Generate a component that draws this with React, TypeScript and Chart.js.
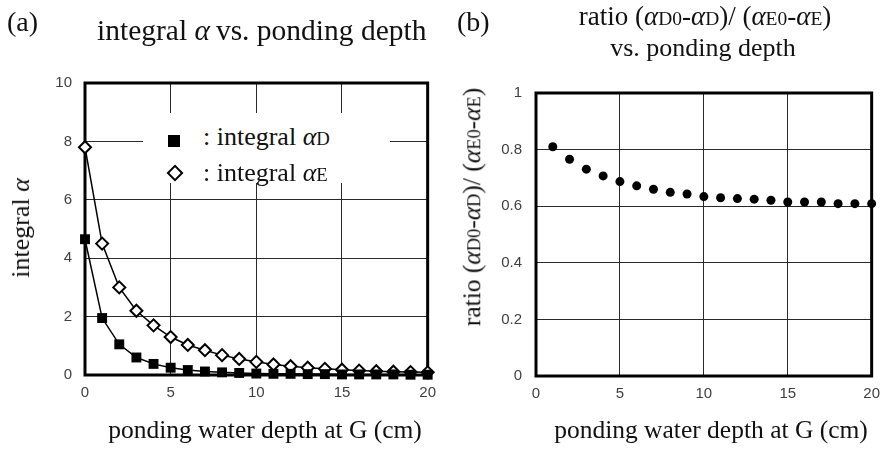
import React, { useEffect, useRef } from "react";
import { Chart, registerables } from "chart.js";

Chart.register(...registerables);

// ---- data ----
const depth = [0, 1, 2, 3, 4, 5, 6, 7, 8, 9, 10, 11, 12, 13, 14, 15, 16, 17, 18, 19, 20];
const integralAlphaD = [4.65, 1.95, 1.05, 0.6, 0.38, 0.25, 0.17, 0.12, 0.09, 0.07, 0.05, 0.04, 0.04, 0.03, 0.03, 0.02, 0.02, 0.02, 0.02, 0.01, 0.01];
const integralAlphaE = [7.8, 4.5, 3.0, 2.2, 1.7, 1.3, 1.03, 0.85, 0.68, 0.55, 0.45, 0.36, 0.3, 0.25, 0.21, 0.18, 0.15, 0.13, 0.11, 0.1, 0.09];
const ratioDepth = [1, 2, 3, 4, 5, 6, 7, 8, 9, 10, 11, 12, 13, 14, 15, 16, 17, 18, 19, 20];
const ratioValues = [0.81, 0.766, 0.731, 0.707, 0.687, 0.672, 0.66, 0.649, 0.643, 0.634, 0.63, 0.627, 0.625, 0.621, 0.615, 0.615, 0.615, 0.609, 0.609, 0.609];
const xTicks = [0, 5, 10, 15, 20];
const yTicksA = [0, 2, 4, 6, 8, 10];
const yTicksB = [0, 0.2, 0.4, 0.6, 0.8, 1];

const SERIF = "'Liberation Serif', 'Times New Roman', serif";
const SANS = "'Liberation Sans', Arial, sans-serif";
const TICK_COLOR = "#404040";
const GRID_COLOR = "#2a2a2a";

const framePlugin = {
  id: "frame",
  beforeDatasetsDraw(chart: any) {
    const { ctx, chartArea } = chart;
    ctx.save();
    ctx.strokeStyle = "#000";
    ctx.lineWidth = 3;
    ctx.strokeRect(chartArea.left, chartArea.top, chartArea.right - chartArea.left, chartArea.bottom - chartArea.top);
    ctx.restore();
  },
};

function makeScales(yMax: number, yTicks: number[], yWidth: number, xHeight: number, yPad: number) {
  return {
    x: {
      type: "linear",
      min: 0,
      max: 20,
      afterFit: (s: any) => { s.height = xHeight; },
      afterBuildTicks: (s: any) => { s.ticks = xTicks.map((v) => ({ value: v })); },
      grid: { color: GRID_COLOR, lineWidth: 1, drawTicks: false },
      border: { display: false },
      ticks: { color: TICK_COLOR, font: { family: SANS, size: 15 }, padding: 9, maxRotation: 0, callback: (v: any) => String(v) },
    },
    y: {
      type: "linear",
      min: 0,
      max: yMax,
      afterFit: (s: any) => { s.width = yWidth; },
      afterBuildTicks: (s: any) => { s.ticks = yTicks.map((v) => ({ value: v })); },
      grid: { color: GRID_COLOR, lineWidth: 1, drawTicks: false },
      border: { display: false },
      ticks: { color: TICK_COLOR, font: { family: SANS, size: 15 }, padding: yPad, callback: (v: any) => String(v) },
    },
  };
}

function Sub({ t }: { t: string }) {
  return <span style={{ fontSize: "0.72em" }}>{t}</span>;
}
function A() {
  return <i>α</i>;
}

function Txt(props: { left?: number; center?: number; baseline: number; size: number; children: any; }) {
  const top = props.baseline - 0.8375 * props.size;
  const style: any = {
    position: "absolute",
    top,
    fontFamily: SERIF,
    fontSize: props.size,
    lineHeight: 1,
    whiteSpace: "nowrap",
    color: "#111",
  };
  if (props.center !== undefined) {
    style.left = props.center;
    style.transform = "translateX(-50%)";
  } else {
    style.left = props.left;
  }
  return <div style={style}>{props.children}</div>;
}

function VTxt(props: { cx: number; cy: number; size: number; children: any }) {
  return (
    <div
      style={{
        position: "absolute",
        left: props.cx,
        top: props.cy,
        transform: "translate(-50%, -50%) rotate(-90deg)",
        fontFamily: SERIF,
        fontSize: props.size,
        lineHeight: 1,
        whiteSpace: "nowrap",
        color: "#111",
      }}
    >
      {props.children}
    </div>
  );
}

export default function App() {
  const refA = useRef<HTMLCanvasElement>(null);
  const refB = useRef<HTMLCanvasElement>(null);

  useEffect(() => {
    const chartA = new Chart(refA.current as HTMLCanvasElement, {
      type: "scatter",
      data: {
        datasets: [
          {
            label: "integral αD",
            data: depth.map((x, i) => ({ x, y: integralAlphaD[i] })),
            showLine: true,
            borderColor: "#000",
            borderWidth: 1.5,
            pointStyle: "rect",
            pointRadius: 7,
            pointBackgroundColor: "#000",
            pointBorderColor: "#000",
            pointBorderWidth: 0,
            clip: false,
          },
          {
            label: "integral αE",
            data: depth.map((x, i) => ({ x, y: integralAlphaE[i] })),
            showLine: true,
            borderColor: "#000",
            borderWidth: 1.5,
            pointStyle: "rectRot",
            pointRadius: 6,
            pointBackgroundColor: "#fff",
            pointBorderColor: "#000",
            pointBorderWidth: 2,
            clip: false,
          },
        ],
      } as any,
      options: {
        responsive: false,
        animation: false,
        layout: { padding: { top: 83, right: 17, left: 0, bottom: 0 } },
        plugins: { legend: { display: false }, tooltip: { enabled: false }, title: { display: false } },
        scales: makeScales(10, yTicksA, 85, 74, 13) as any,
      },
      plugins: [framePlugin],
    });

    const chartB = new Chart(refB.current as HTMLCanvasElement, {
      type: "scatter",
      data: {
        datasets: [
          {
            label: "ratio",
            data: ratioDepth.map((x, i) => ({ x, y: ratioValues[i] })),
            showLine: false,
            pointStyle: "circle",
            pointRadius: 4.5,
            pointBackgroundColor: "#000",
            pointBorderColor: "#000",
            pointBorderWidth: 0,
            clip: false,
          },
        ],
      } as any,
      options: {
        responsive: false,
        animation: false,
        layout: { padding: { top: 93, right: 12, left: 0, bottom: 0 } },
        plugins: { legend: { display: false }, tooltip: { enabled: false }, title: { display: false } },
        scales: makeScales(1, yTicksB, 91, 73, 14) as any,
      },
      plugins: [framePlugin],
    });

    return () => {
      chartA.destroy();
      chartB.destroy();
    };
  }, []);

  return (
    <div style={{ position: "absolute", left: 0, top: 0, width: 889, height: 449, background: "#fff", overflow: "hidden" }}>
      <canvas ref={refA} width={445} height={449} style={{ position: "absolute", left: 0, top: 0, width: 445, height: 449 }} />
      <canvas ref={refB} width={444} height={449} style={{ position: "absolute", left: 445, top: 0, width: 444, height: 449 }} />

      {/* panel (a) texts */}
      <Txt left={7} baseline={31} size={28}>(a)</Txt>
      <Txt left={97} baseline={41} size={29.5}>integral <A />{"\u2009"}vs. ponding depth</Txt>
      <VTxt cx={21} cy={228} size={26}>integral <A /></VTxt>
      <Txt center={265} baseline={438} size={25.5}>ponding water depth at G (cm)</Txt>

      {/* legend of (a) */}
      <div style={{ position: "absolute", left: 143, top: 113, width: 247, height: 70, background: "#fff" }} />
      <div style={{ position: "absolute", left: 168, top: 135, width: 12, height: 12, background: "#000" }} />
      <div style={{ position: "absolute", left: 169, top: 167, width: 8, height: 8, border: "2px solid #000", background: "#fff", transform: "rotate(45deg)" }} />
      <Txt left={203} baseline={146} size={26}>: integral <A /><Sub t="D" /></Txt>
      <Txt left={203} baseline={182} size={26}>: integral <A /><Sub t="E" /></Txt>

      {/* panel (b) texts */}
      <Txt left={457} baseline={31} size={28}>(b)</Txt>
      <Txt center={705} baseline={26} size={27}>ratio (<A /><Sub t="D0" />-<A /><Sub t="D" />)/ (<A /><Sub t="E0" />-<A /><Sub t="E" />)</Txt>
      <Txt center={703} baseline={57} size={26}>vs. ponding depth</Txt>
      <VTxt cx={472} cy={207} size={25.5}>ratio (<A /><Sub t="D0" />-<A /><Sub t="D" />)/ (<A /><Sub t="E0" />-<A /><Sub t="E" />)</VTxt>
      <Txt center={711} baseline={438} size={25.5}>ponding water depth at G (cm)</Txt>
    </div>
  );
}
